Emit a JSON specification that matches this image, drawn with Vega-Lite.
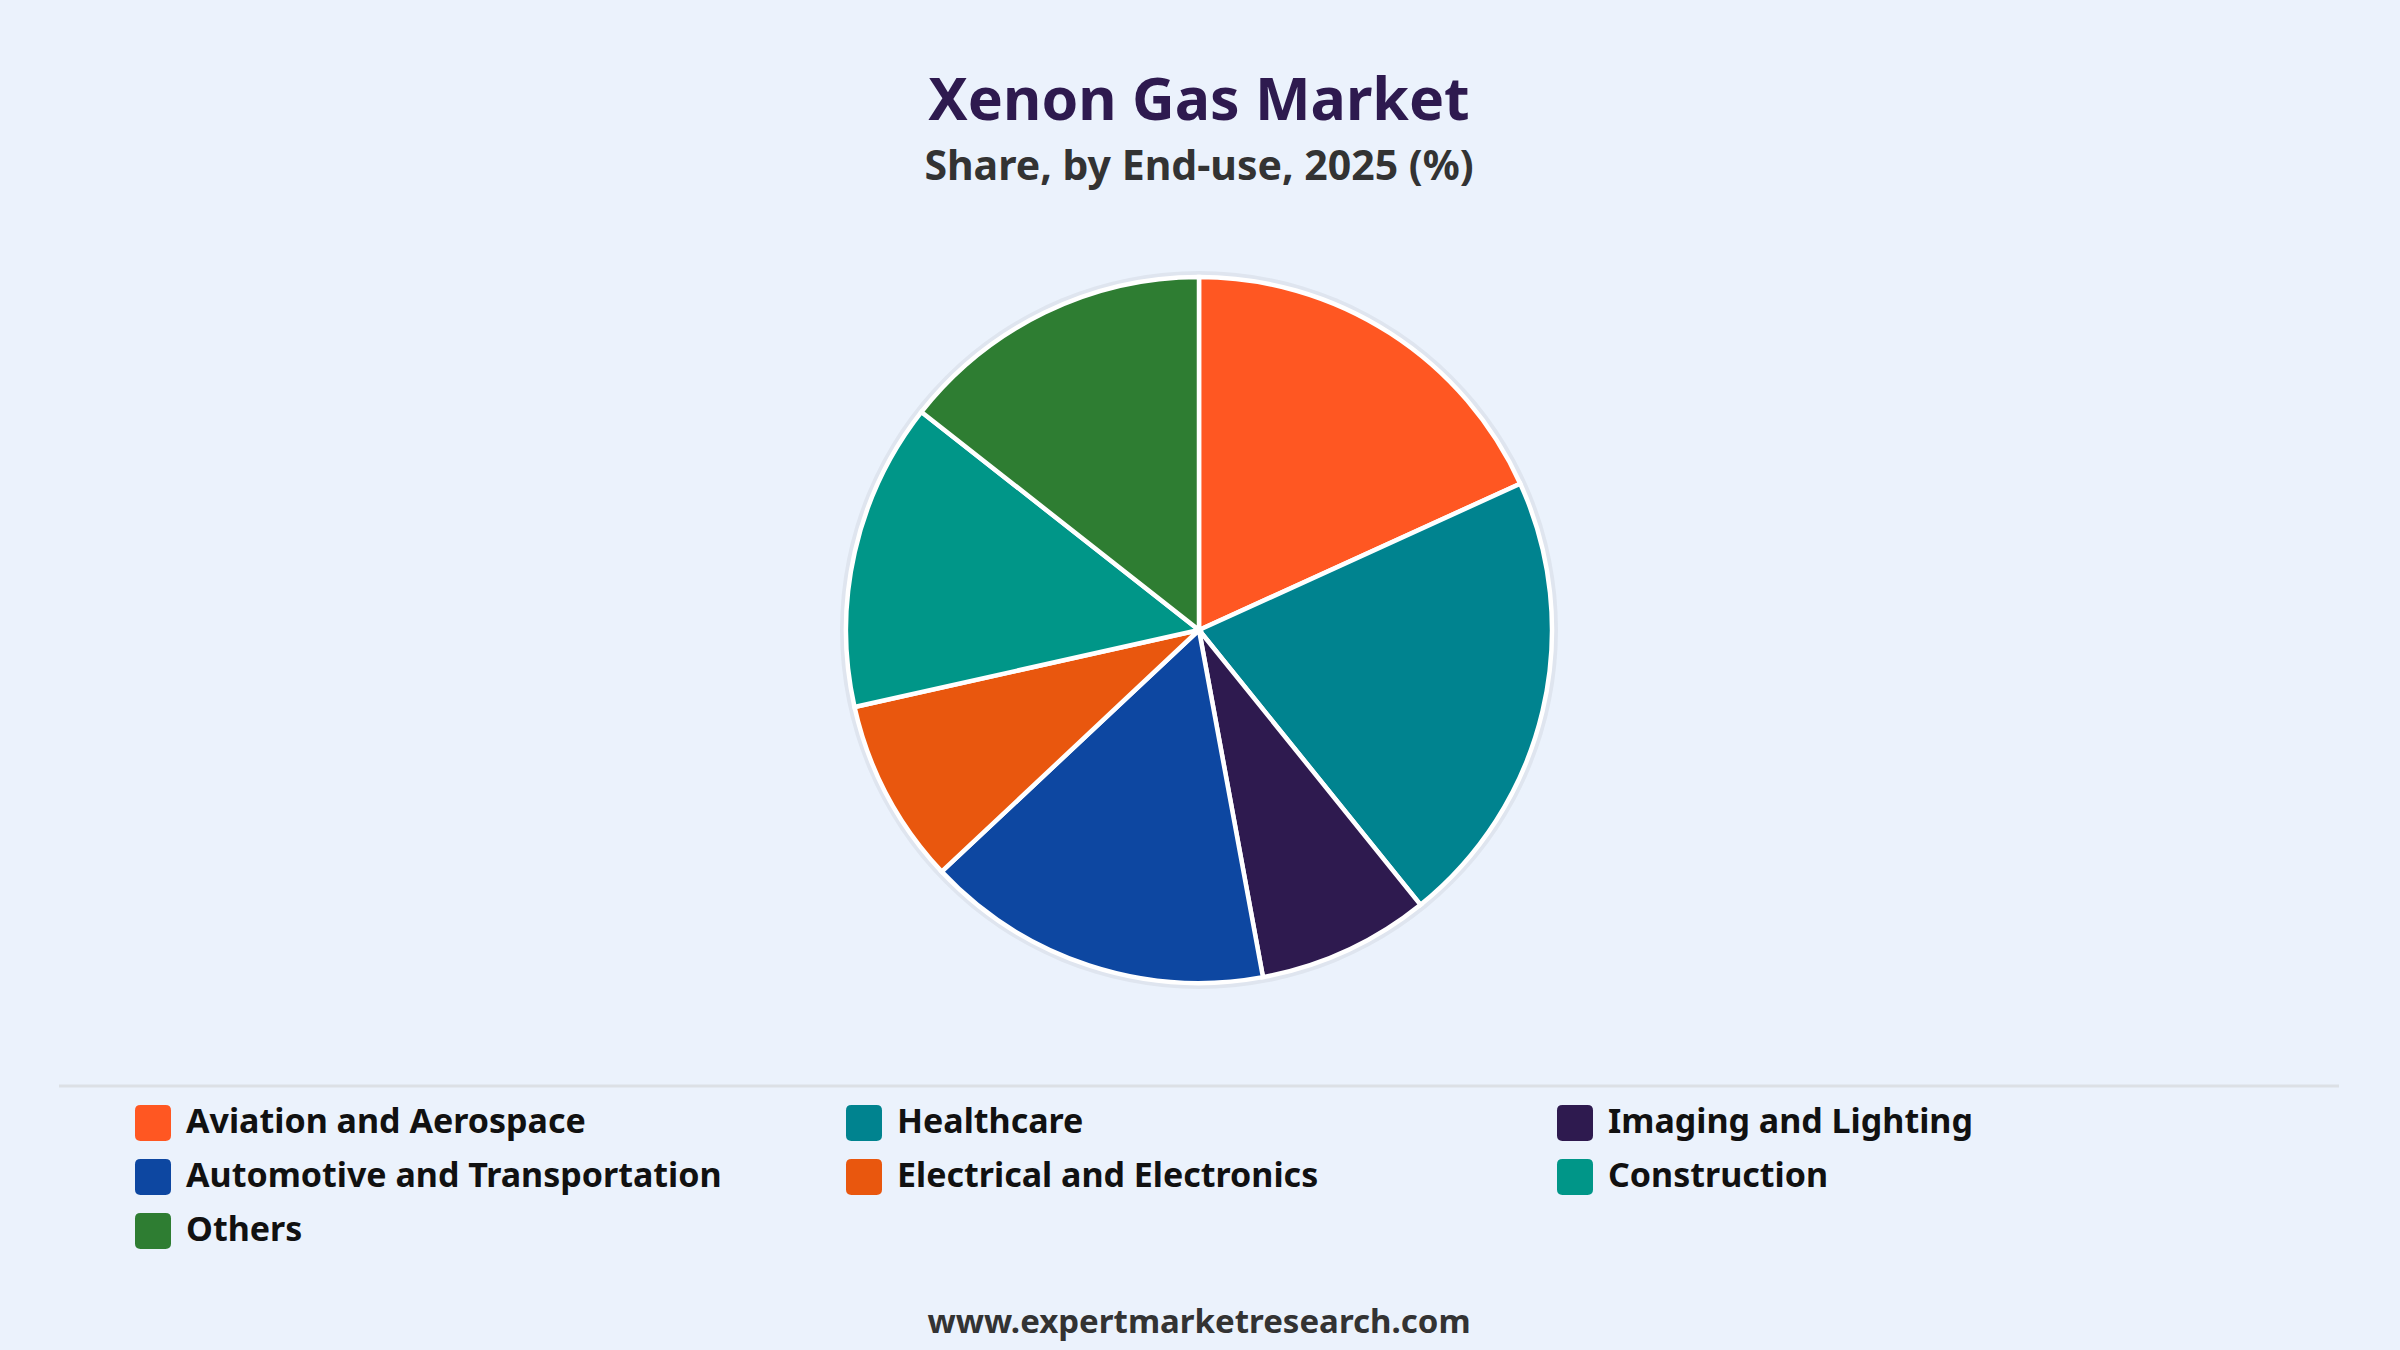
{
  "$schema": "https://vega.github.io/schema/vega-lite/v6.json",
  "width": 2280,
  "height": 860,
  "autosize": {"type": "none"},
  "padding": {"left": 59, "right": 61, "top": 200, "bottom": 290},
  "background": "#EBF2FC",
  "title": {
    "text": "Xenon Gas Market",
    "subtitle": "Share, by End-use, 2025 (%)",
    "anchor": "middle",
    "offset": 12
  },
  "datasets": {
    "shares": [
      {"segment": "Aviation and Aerospace", "share": 18.2, "idx": 1},
      {"segment": "Healthcare", "share": 21.0, "idx": 2},
      {"segment": "Imaging and Lighting", "share": 7.9, "idx": 3},
      {"segment": "Automotive and Transportation", "share": 15.9, "idx": 4},
      {"segment": "Electrical and Electronics", "share": 8.5, "idx": 5},
      {"segment": "Construction", "share": 14.1, "idx": 6},
      {"segment": "Others", "share": 14.4, "idx": 7}
    ]
  },
  "layer": [
    {
      "data": {"values": [{"share": 100}]},
      "mark": {"type": "arc", "radius": 359, "fill": "#000000", "opacity": 0.05},
      "encoding": {"theta": {"field": "share", "type": "quantitative"}}
    },
    {
      "data": {"name": "shares"},
      "mark": {"type": "arc", "radius": 353, "stroke": "#ffffff", "strokeWidth": 4.5},
      "encoding": {
        "theta": {"field": "share", "type": "quantitative", "stack": true},
        "order": {"field": "idx", "type": "quantitative"},
        "color": {
          "field": "segment",
          "type": "nominal",
          "scale": {
            "domain": [
              "Aviation and Aerospace",
              "Healthcare",
              "Imaging and Lighting",
              "Automotive and Transportation",
              "Electrical and Electronics",
              "Construction",
              "Others"
            ],
            "range": ["#FF5722", "#00838F", "#2E1A4F", "#0D47A1", "#E9570E", "#009688", "#2E7D32"]
          },
          "legend": {
            "title": null,
            "orient": "none",
            "legendX": 76,
            "legendY": 905,
            "direction": "horizontal",
            "columns": 3,
            "gridAlign": "all",
            "columnPadding": 124,
            "rowPadding": 18,
            "symbolType": "M-1,-0.7Q-1,-1,-0.7,-1L0.7,-1Q1,-1,1,-0.7L1,0.7Q1,1,0.7,1L-0.7,1Q-1,1,-1,0.7Z",
            "symbolSize": 1296,
            "symbolStrokeWidth": 0,
            "symbolOpacity": 1,
            "labelOffset": 15,
            "labelFont": "Noto Sans",
            "labelFontSize": 34,
            "labelFontWeight": "bold",
            "labelColor": "#111111",
            "labelLimit": 1000
          }
        }
      }
    },
    {
      "data": {"values": [{"pos": -0.0302}]},
      "mark": {"type": "rule", "color": "#DCE0E5", "strokeWidth": 3},
      "encoding": {
        "y": {"field": "pos", "type": "quantitative", "scale": {"domain": [0, 1], "nice": false, "zero": false}, "axis": null}
      }
    },
    {
      "data": {"values": [{"pos": -0.3174, "label": "www.expertmarketresearch.com"}]},
      "mark": {"type": "text", "font": "Noto Sans", "fontSize": 33, "fontWeight": "bold", "color": "#333333", "baseline": "alphabetic", "align": "center"},
      "encoding": {
        "y": {"field": "pos", "type": "quantitative", "scale": {"domain": [0, 1], "nice": false, "zero": false}, "axis": null},
        "text": {"field": "label", "type": "nominal"}
      }
    }
  ],
  "config": {
    "view": {"stroke": null},
    "title": {
      "font": "Noto Sans",
      "fontSize": 59,
      "fontWeight": "bold",
      "color": "#2E1A4F",
      "subtitleFont": "Noto Sans",
      "subtitleFontSize": 41,
      "subtitleFontWeight": "bold",
      "subtitleColor": "#333333",
      "subtitlePadding": 16
    }
  }
}
